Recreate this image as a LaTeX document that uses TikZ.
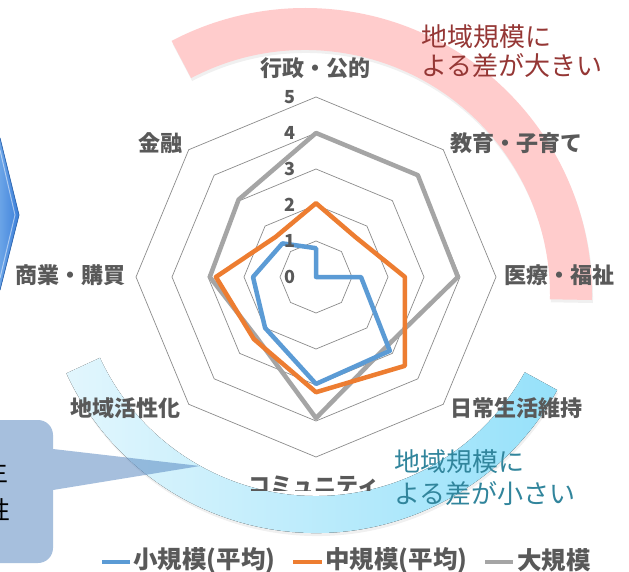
\documentclass[tikz,border=0pt]{standalone}
\usepackage{fontspec}
\newfontfamily\jp{Noto Sans CJK JP}
\usetikzlibrary{calc}
\definecolor{lab}{HTML}{595959}
\definecolor{sblue}{HTML}{5B9BD5}
\definecolor{sorange}{HTML}{ED7D31}
\definecolor{sgray}{HTML}{A5A5A5}
\definecolor{gridc}{HTML}{8C8C8C}
\definecolor{pinkarc}{RGB}{255,204,204}
\definecolor{redtxt}{HTML}{953735}
\definecolor{tealtxt}{HTML}{31859C}
\definecolor{callc}{HTML}{4F81BD}
\definecolor{bandL}{RGB}{226,246,253}
\definecolor{bandR}{RGB}{150,225,250}
\definecolor{chevL}{RGB}{130,182,238}
\definecolor{chevR}{RGB}{60,128,218}
\newcommand\radarline[9]{%
  \draw[ser,#1] ($(C)+(-90:{#2*36})$) -- ($(C)+(-45:{#3*36})$) -- ($(C)+(0:{#4*36})$)
   -- ($(C)+(45:{#5*36})$) -- ($(C)+(90:{#6*36})$) -- ($(C)+(135:{#7*36})$)
   -- ($(C)+(180:{#8*36})$) -- ($(C)+(225:{#9*36})$) -- cycle;}
\begin{document}
\begin{tikzpicture}[x=1pt,y=-1pt,
  cat/.style={font=\jp\bfseries\fontsize{22}{26}\selectfont, text=lab, inner sep=0},
  num/.style={font=\jp\bfseries\fontsize{18}{20}\selectfont, text=lab, inner sep=0},
  leg/.style={font=\jp\bfseries\fontsize{24.5}{28}\selectfont, text=lab, inner sep=0, anchor=west},
  ann/.style={font=\jp\fontsize{26}{30}\selectfont, inner sep=0, anchor=west},
  ser/.style={line width=4.5pt, line join=round},
  gridl/.style={draw=gridc, line width=0.7pt},
  legl/.style={line width=4pt}]
\useasboundingbox (0,0) rectangle (629,572);
\fill[white] (0,0) rectangle (629,572);
% centres
\coordinate (C) at (316,277);
\coordinate (P) at (305,295);
\coordinate (B) at (316,258);
% pink band
\fill[black, opacity=0.06] ($(P)+(1:287)+(1,3)$) arc[start angle=1,end angle=-117.7,radius=287]
   -- ($(P)+(-117.7:245)+(1,3)$) arc[start angle=-117.7,end angle=1,radius=245] -- cycle;
\fill[pinkarc] ($(P)+(1:287)$) arc[start angle=1,end angle=-117.7,radius=287]
   -- ($(P)+(-117.7:245)$) arc[start angle=-117.7,end angle=1,radius=245] -- cycle;
% blue band
\fill[black, opacity=0.06] ($(B)+(155.2:275)+(1,3)$) arc[start angle=155.2,end angle=28.7,radius=275]
   -- ($(B)+(28.7:238)+(1,3)$) arc[start angle=28.7,end angle=155.2,radius=238] -- cycle;
\fill[left color=bandL, right color=bandR] ($(B)+(155.2:275)$) arc[start angle=155.2,end angle=28.7,radius=275]
   -- ($(B)+(28.7:238)$) arc[start angle=28.7,end angle=155.2,radius=238] -- cycle;
% grid
\foreach \k in {1,...,5}{
  \draw[gridl] ($(C)+(-90:{\k*36})$) -- ($(C)+(-45:{\k*36})$) -- ($(C)+(0:{\k*36})$)
   -- ($(C)+(45:{\k*36})$) -- ($(C)+(90:{\k*36})$) -- ($(C)+(135:{\k*36})$)
   -- ($(C)+(180:{\k*36})$) -- ($(C)+(225:{\k*36})$) -- cycle;}
% series
\radarline{sgray}{4.0}{4.0}{3.94}{2.75}{3.92}{2.35}{2.95}{3.04}
\radarline{sorange}{2.05}{1.56}{2.47}{3.49}{3.2}{2.44}{2.78}{1.58}
\radarline{sblue}{0.8}{0}{1.25}{2.9}{2.97}{2.0}{1.75}{1.32}
% axis numbers
\foreach \k in {0,...,5}{\node[num] (n\k) at (290,{277-36*\k}) {\k};}
% category labels
\node[cat] (l1) at (315,68) {行政・公的};
\node[cat] (l2) at (516,143) {教育・子育て};
\node[cat] (l3) at (559,275) {医療・福祉};
\node[cat] (l4) at (516,408) {日常生活維持};
\begin{scope}
  \clip (200,455) rectangle (440,490);
  \node[cat] (l5) at (314,486) {コミュニティ};
\end{scope}
\node[cat] (l6) at (125,408) {地域活性化};
\node[cat] (l7) at (71,275) {商業・購買};
\node[cat] (l8) at (160,143) {金融};
% annotations
\node[ann, text=redtxt] (a1) at (421,37) {地域規模に};
\node[ann, text=redtxt] (a2) at (421,66) {よる差が大きい};
\node[ann, text=tealtxt] (b1) at (394,462) {地域規模に};
\node[ann, text=tealtxt] (b2) at (394,494) {よる差が小さい};
% callout
\fill[callc, opacity=0.5] (-20,420) -- (38,420) arc[start angle=-90,end angle=0,radius=15]
   -- (53,449) -- (200,466) -- (53,490) -- (53,548) arc[start angle=0,end angle=90,radius=15]
   -- (-20,563) -- cycle;
\node[font=\jp\fontsize{25}{30}\selectfont, text=black, inner sep=0, anchor=east] (c1) at (9,472) {生};
\node[font=\jp\fontsize{25}{30}\selectfont, text=black, inner sep=0, anchor=east] (c2) at (11,510) {性};
% chevron
\fill[left color=chevL, right color=chevR] (-10,138) -- (0,138) -- (19,215) -- (0,290) -- (-10,290) -- cycle;
\draw[chevR!85!black, line width=0.8pt] (0,138) -- (19,215) -- (0,290);
\draw[white, opacity=0.5, line width=1pt] (0,150) -- (15,215) -- (0,278);
% legend
\coordinate (k1a) at (102,562); \coordinate (k1b) at (130,562);
\coordinate (k2a) at (293,562); \coordinate (k2b) at (322,562);
\coordinate (k3a) at (485,562); \coordinate (k3b) at (513,562);
\draw[legl, sblue] (k1a) -- (k1b);
\draw[legl, sorange] (k2a) -- (k2b);
\draw[legl, sgray] (k3a) -- (k3b);
\node[leg] (t1) at (133,560) {小規模(平均)};
\node[leg] (t2) at (325,560) {中規模(平均)};
\node[leg] (t3) at (517,560) {大規模};
\end{tikzpicture}
\end{document}
